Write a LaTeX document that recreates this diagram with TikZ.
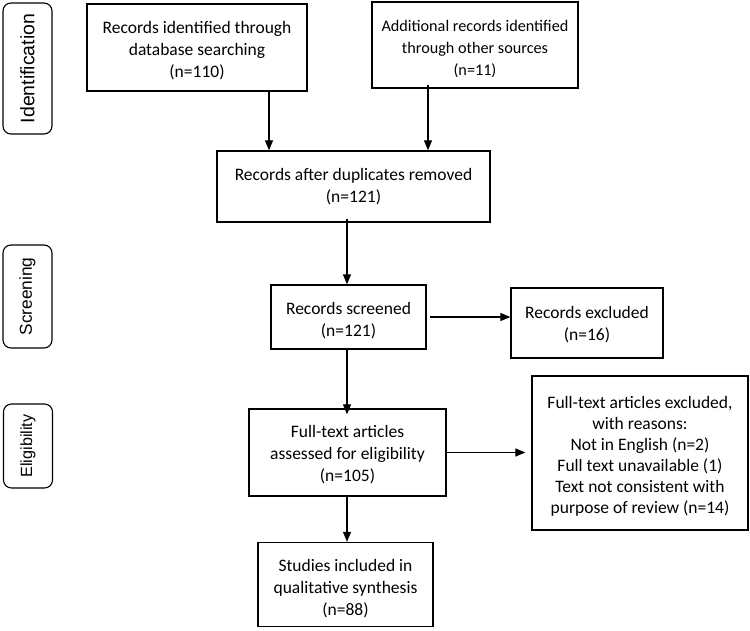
\documentclass[tikz,border=0pt]{standalone}
\usepackage{fontspec}
\setmainfont{Carlito}
\newfontfamily\labfont{Liberation Sans}
\usetikzlibrary{arrows.meta}
\newcommand\lowr[2]{\raisebox{-#1}[\height][\depth]{\begin{tabular}{@{}c@{}}#2\end{tabular}}}
\tikzset{
  box/.style={draw=black, line width=1.3pt, rectangle, inner sep=0pt,
    font=\fontsize{17.5}{22}\selectfont},
  phase/.style={draw=black, line width=1.1pt, rounded corners=8pt, rotate=90, inner sep=0pt,
    minimum height=49pt},
  arr/.style={line width=1.2pt, -{Triangle[length=10pt,width=8pt]}},
}
\begin{document}
\begin{tikzpicture}[x=1pt,y=-1pt]
\useasboundingbox (0,0) rectangle (750,631);
% phase labels
\node[phase, minimum width=131pt, font=\labfont\fontsize{19.5}{22}\selectfont] (pid) at (27.5,68.5) {Identification};
\node[phase, minimum width=103pt, font=\labfont\fontsize{17.3}{20}\selectfont] (pscr) at (27.5,296.5) {Screening};
\node[phase, minimum width=84pt, font=\labfont\fontsize{16.2}{20}\selectfont] (pel) at (28,446) {Eligibility};
% boxes
\node[box, minimum width=220pt, minimum height=87pt] (A) at (197,47.5) {\lowr{4pt}{Records identified through\\database searching\\(n=110)}};
\node[box, minimum width=206pt, minimum height=86pt, font=\fontsize{16.2}{22}\selectfont] (B) at (475,45) {\lowr{4pt}{Additional records identified\\through other sources\\(n=11)}};
\node[box, minimum width=273pt, minimum height=71pt] (C) at (353.5,186.5) {\lowr{1pt}{Records after duplicates removed\\(n=121)}};
\node[box, minimum width=155pt, minimum height=64pt] (D) at (348.5,317) {\lowr{4pt}{Records screened\\(n=121)}};
\node[box, minimum width=152pt, minimum height=70pt] (E) at (587,323) {\lowr{2pt}{Records excluded\\(n=16)}};
\node[box, minimum width=197pt, minimum height=87pt] (F) at (347.5,452.5) {\lowr{3pt}{Full-text articles\\assessed for eligibility\\(n=105)}};
\node[box, minimum width=216pt, minimum height=154pt, font=\fontsize{17.5}{21}\selectfont] (G) at (640,453) {\lowr{4pt}{Full-text articles excluded,\\with reasons:\\Not in English (n=2)\\Full text unavailable (1)\\Text not consistent with\\purpose of review (n=14)}};
\node[box, minimum width=175pt, minimum height=84pt] (H) at (345.5,584.5) {\lowr{5pt}{Studies included in\\qualitative synthesis\\(n=88)}};
% connectors
\coordinate (xa) at (269,0);
\coordinate (xb) at (428,0);
\coordinate (xc) at (347,0);
\draw[arr] ([yshift=2pt]A.south -| xa) -- (C.north -| xa);
\draw[arr] ([yshift=4pt]B.south -| xb) -- (C.north -| xb);
\draw[arr] ([yshift=4pt]C.south -| xc) -- (D.north -| xc);
\draw[arr] ([xshift=3pt]D.east) -- (D.east -| E.west);
\draw[arr] (D.south -| xc) -- ([yshift=-6pt]F.north -| xc);
\draw[arr] (F.east) -- ([xshift=-6pt]F.east -| G.west);
\draw[arr] (F.south -| xc) -- (H.north -| xc);
\end{tikzpicture}
\end{document}
